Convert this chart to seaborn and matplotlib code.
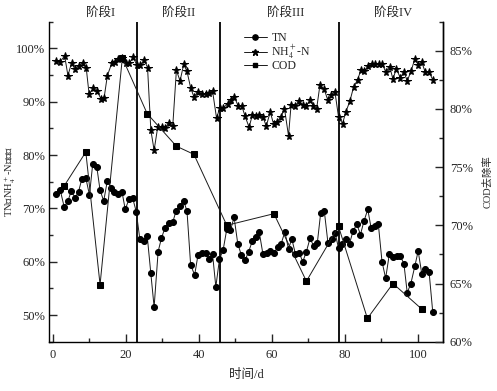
import matplotlib
matplotlib.use("Agg")
import matplotlib.pyplot as plt
import matplotlib.transforms as mtransforms
from matplotlib.ticker import MultipleLocator, FuncFormatter
from matplotlib.lines import Line2D
import seaborn as sns
import pandas as pd

# ---------------- data ----------------
tn_day = [1.0, 2.1, 3.2, 4.2, 5.1, 6.2, 7.1, 8.0, 9.1, 10.1, 11.0, 12.1, 13.0, 14.0, 15.0, 16.0,
          16.9, 18.0, 19.0, 19.9, 20.9, 21.9, 22.9, 23.9, 24.9, 25.9, 26.9, 27.8, 28.9, 29.8, 30.8,
          31.8, 32.9, 33.8, 34.9, 35.9, 36.8, 37.8, 38.9, 39.8, 40.8, 41.9, 42.8, 43.8, 44.7, 45.7,
          46.7, 47.7, 48.7, 49.7, 50.7, 51.7, 52.7, 53.7, 54.7, 55.6, 56.6, 57.6, 58.6, 59.6, 60.6,
          61.6, 62.6, 63.6, 64.6, 65.5, 66.5, 67.5, 68.5, 69.5, 70.5, 71.5, 72.5, 73.4, 74.4, 75.4,
          76.4, 77.4, 78.3, 79.3, 80.3, 81.3, 82.3, 83.3, 84.3, 85.3, 86.3, 87.2, 88.2, 89.2, 90.2,
          91.2, 92.2, 93.2, 94.2, 95.2, 96.2, 97.1, 98.1, 99.2, 100.1, 101.1, 102.1, 103.1, 104.1]
tn_val = [72.7, 73.4, 70.2, 71.4, 73.2, 72.0, 73.1, 75.5, 75.7, 72.5, 78.4, 77.8, 73.4, 71.4, 75.2,
          73.9, 73.0, 72.7, 73.1, 69.8, 71.7, 72.0, 69.4, 64.2, 63.9, 64.9, 57.8, 51.5, 61.9, 64.4,
          66.4, 67.3, 67.4, 69.5, 70.5, 71.4, 69.5, 59.4, 57.5, 61.2, 61.6, 61.7, 60.6, 61.4, 55.3,
          60.5, 62.2, 66.1, 65.9, 68.3, 63.4, 61.2, 60.3, 61.9, 63.9, 64.7, 65.5, 61.4, 61.7, 62.0,
          61.6, 62.7, 63.4, 65.6, 62.4, 64.3, 61.4, 61.7, 60.0, 61.9, 64.4, 62.9, 63.6, 69.1, 69.5,
          63.5, 64.2, 65.3, 62.5, 63.4, 64.2, 63.4, 65.8, 67.0, 65.1, 67.7, 69.8, 66.4, 66.7, 67.0,
          60.0, 56.9, 61.4, 60.8, 61.1, 61.1, 59.6, 54.2, 55.9, 59.2, 62.0, 57.7, 58.7, 58.0, 50.5]

nh_day = [1.0, 2.1, 3.3, 4.2, 5.2, 6.1, 7.2, 8.2, 9.2, 10.0, 11.1, 12.2, 13.2, 14.1, 15.0, 16.2,
          17.1, 18.0, 19.1, 20.1, 21.0, 22.1, 23.0, 24.0, 25.1, 26.0, 26.9, 27.8, 28.8, 29.9, 30.8,
          31.9, 32.9, 33.9, 34.9, 35.9, 36.8, 37.8, 38.7, 39.8, 40.8, 41.9, 42.7, 43.8, 44.9, 45.8,
          46.7, 47.9, 48.8, 49.8, 50.8, 51.8, 52.7, 53.8, 54.7, 55.8, 56.5, 57.6, 58.5, 59.6, 60.5,
          61.4, 62.6, 63.5, 64.6, 65.3, 66.4, 67.4, 68.5, 69.4, 70.5, 71.4, 72.3, 73.2, 74.4, 75.3,
          76.3, 77.3, 78.3, 79.4, 80.3, 81.4, 82.4, 83.5, 84.4, 85.3, 86.4, 87.4, 88.3, 89.4, 90.3,
          91.2, 92.3, 93.2, 94.1, 95.2, 96.2, 97.1, 98.2, 99.2, 100.1, 101.1, 102.0, 103.1, 104.1]
nh_val = [97.6, 97.5, 98.6, 94.9, 97.3, 96.1, 96.7, 97.2, 96.4, 91.4, 92.5, 92.0, 90.6, 90.7, 94.9,
          97.2, 97.5, 98.1, 98.2, 97.2, 97.2, 98.4, 96.9, 96.9, 97.8, 96.4, 84.7, 80.9, 85.3, 85.3,
          85.1, 86.1, 85.4, 95.9, 93.9, 97.0, 95.7, 92.6, 90.9, 91.9, 91.4, 91.5, 91.7, 92.0, 86.9,
          88.9, 88.8, 89.6, 90.3, 90.9, 89.2, 89.2, 87.3, 85.2, 87.5, 87.3, 87.5, 87.2, 85.4, 88.1,
          85.8, 86.2, 87.2, 88.7, 83.6, 89.4, 89.2, 90.1, 89.4, 89.2, 90.3, 89.2, 88.7, 93.1, 92.3,
          90.4, 91.2, 91.9, 87.1, 85.9, 88.1, 90.1, 92.7, 94.1, 95.9, 95.7, 96.7, 97.0, 97.1, 97.1,
          97.1, 95.6, 96.6, 94.2, 96.2, 94.5, 95.6, 93.9, 95.8, 98.1, 96.9, 97.4, 95.6, 95.6, 94.1]

cod_day = [3.2, 9.1, 13.0, 19.1, 25.9, 33.9, 38.7, 47.7, 60.6, 69.5, 78.3, 86.2, 93.2, 101.1]
cod_val = [73.4, 76.3, 64.9, 84.4, 79.6, 76.8, 76.1, 70.0, 71.0, 65.2, 69.9, 62.0, 65.0, 62.8]

phase_bounds = [23.0, 45.8, 78.3]
phase_labels = ["阶段I", "阶段II", "阶段III", "阶段IV"]
phase_label_x = [13.0, 34.4, 63.7, 93.2]

# ---------------- style ----------------
sns.set_theme(style="ticks")
FAM = ["Liberation Serif", "Noto Sans CJK SC"]
plt.rcParams["font.family"] = FAM
plt.rcParams["mathtext.fontset"] = "stix"
plt.rcParams["font.size"] = 9

fig = plt.figure(figsize=(4.97, 3.91), dpi=100)
ax = fig.add_axes([49.3 / 497, 1 - 341.7 / 391, (443 - 49.3) / 497, 320 / 391])
ax2 = ax.twinx()

LC = "#1a1a1a"
tn_df = pd.DataFrame({"day": tn_day, "val": tn_val})
nh_df = pd.DataFrame({"day": nh_day, "val": nh_val})
cod_df = pd.DataFrame({"day": cod_day, "val": cod_val})

sns.lineplot(data=tn_df, x="day", y="val", ax=ax, color=LC, lw=0.7, marker="o", ms=4.3,
             mec="black", mfc="black", errorbar=None, legend=False)
sns.lineplot(data=nh_df, x="day", y="val", ax=ax, color=LC, lw=0.7, marker="*", ms=5.8,
             mec="black", mfc="black", errorbar=None, legend=False)
sns.lineplot(data=cod_df, x="day", y="val", ax=ax2, color=LC, lw=0.7, marker="s", ms=3.8,
             mec="black", mfc="black", errorbar=None, legend=False)

for b in phase_bounds:
    ax.axvline(b, color="black", lw=1.3, zorder=1)

trans = mtransforms.blended_transform_factory(ax.transData, ax.transAxes)
for xl, lab in zip(phase_label_x, phase_labels):
    ax.text(xl, 1.027, lab, transform=trans, ha="center", va="center", fontsize=9, family=FAM)

ax.set_xlim(-0.9, 106.9)
ax.set_ylim(45, 105)
ax2.set_ylim(60, 87.5)

ax.xaxis.set_major_locator(MultipleLocator(20))
ax.xaxis.set_minor_locator(MultipleLocator(10))
ax.yaxis.set_major_locator(MultipleLocator(10))
ax.yaxis.set_minor_locator(MultipleLocator(5))
ax2.yaxis.set_major_locator(MultipleLocator(5))
ax2.yaxis.set_minor_locator(MultipleLocator(2.5))
pct = FuncFormatter(lambda v, p: f"{v:.0f}%")
ax.yaxis.set_major_formatter(pct)
ax2.yaxis.set_major_formatter(pct)

for a in (ax, ax2):
    a.spines["top"].set_visible(False)
    for s in a.spines.values():
        s.set_linewidth(1.0)
        s.set_color("black")
ax2.spines["left"].set_visible(False)
ax2.spines["bottom"].set_visible(False)

ax.tick_params(axis="x", which="major", direction="in", length=6, width=1, pad=5, labelsize=9)
ax.tick_params(axis="x", which="minor", direction="in", length=3, width=1)
ax.tick_params(axis="y", which="major", direction="in", length=6, width=1, pad=3, labelsize=9)
ax.tick_params(axis="y", which="minor", direction="in", length=3, width=1)
ax2.tick_params(axis="y", which="major", direction="in", length=6, width=1, pad=5, labelsize=9)
ax2.tick_params(axis="y", which="minor", direction="in", length=3, width=1)

ax.set_xlabel("时间/d", fontsize=9, family=FAM, labelpad=6)
ax.set_ylabel("TN、NH$_4^+$-N去除率", fontsize=7.6, family=FAM)
ax2.set_ylabel("COD去除率", fontsize=7.5, family=FAM)
ax.yaxis.set_label_coords(-0.079, 0.5)
ax2.yaxis.set_label_coords(1.1, 0.5)

handles = [
    Line2D([], [], color=LC, lw=0.7, marker="o", ms=3.8, mfc="black", mec="black"),
    Line2D([], [], color=LC, lw=0.7, marker="*", ms=5, mfc="black", mec="black"),
    Line2D([], [], color=LC, lw=0.7, marker="s", ms=3.2, mfc="black", mec="black"),
]
labels = ["TN", "NH$_4^+$-N", "COD"]
fig.legend(handles, labels, loc="upper left", bbox_to_anchor=(236 / 497, 1 - 24 / 391),
           frameon=False, handlelength=1.9, handletextpad=0.4,
           labelspacing=-0.1, borderpad=0.2, prop={"family": FAM, "size": 8.5})

fig.savefig("out.png", dpi=100)
